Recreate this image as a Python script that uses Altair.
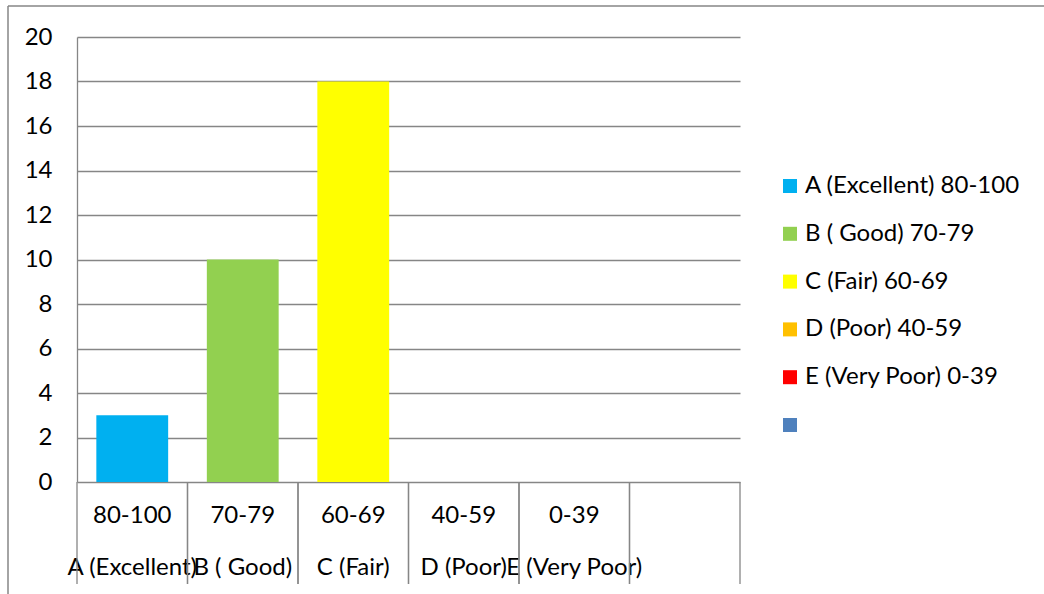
import altair as alt
import pandas as pd

# ---- data ----
ranges = ["80-100", "70-79", "60-69", "40-59", "0-39", " "]
grades = ["A (Excellent)", "B ( Good)", "C (Fair)", "D (Poor)", "E (Very Poor)", " "]
counts = [3, 10, 18, 0, 0, 0]
series = ["A (Excellent) 80-100", "B ( Good) 70-79", "C (Fair) 60-69",
          "D (Poor) 40-59", "E (Very Poor) 0-39", " "]
colors = ["#00B0F0", "#92D050", "#FFFF00", "#FFC000", "#FF0000", "#4F81BD"]
y_ticks = [0, 2, 4, 6, 8, 10, 12, 14, 16, 18, 20]

df = pd.DataFrame({"range": ranges, "grade": grades, "count": counts, "series": series})

FONT = "Lato"
FS = 24
GRID = "#868686"
W, H = 663, 445

xscale = alt.Scale(domain=ranges, paddingInner=0, paddingOuter=0)

def xenc(**kw):
    return alt.X("range:N", sort=ranges, scale=xscale, **kw)

base = alt.Chart(df)

bars = base.transform_filter("datum.count > 0").mark_bar(width={"band": 0.65}).encode(
    x=xenc(axis=alt.Axis(labels=False, ticks=False, title=None, domainColor=GRID,
                         domainWidth=1.3, grid=False)),
    y=alt.Y("count:Q", scale=alt.Scale(domain=[0, 20], nice=False),
            axis=alt.Axis(values=y_ticks, grid=True, gridColor=GRID, gridWidth=1.3,
                          domain=True, domainColor=GRID, domainWidth=1.3, ticks=False,
                          labelPadding=25, labelFont=FONT, labelFontSize=FS,
                          labelColor="black", title=None)),
    color=alt.Color("series:N", scale=alt.Scale(domain=series, range=colors),
                    legend=alt.Legend(title=None, orient="none", legendX=701, legendY=137,
                                      symbolType="square", symbolSize=196,
                                      symbolStrokeWidth=0, symbolOpacity=1,
                                      labelFont=FONT, labelFontSize=FS, labelColor="black",
                                      labelOffset=3, rowPadding=23.8, labelLimit=400)),
)

level1 = base.mark_text(font=FONT, fontSize=FS, baseline="middle", align="center",
                        color="black").encode(
    x=xenc(axis=None), y=alt.value(479), text="range:N")

level2 = base.mark_text(font=FONT, fontSize=FS, baseline="middle", align="center",
                        color="black").encode(
    x=xenc(axis=None), y=alt.value(531), text="grade:N")

sep_left = base.mark_rule(color=GRID, strokeWidth=1.3).encode(
    x=xenc(axis=None, bandPosition=0), y=alt.value(H), y2=alt.value(547))
sep_right = base.mark_rule(color=GRID, strokeWidth=1.3).encode(
    x=xenc(axis=None, bandPosition=1), y=alt.value(H), y2=alt.value(547))

one = alt.Chart(pd.DataFrame({"a": [0]}))
border_left = one.mark_rule(color=GRID, strokeWidth=1.5).encode(
    x=alt.value(-69), y=alt.value(-31), y2=alt.value(H + 112))
border_top = one.mark_rule(color=GRID, strokeWidth=1.5).encode(
    x=alt.value(-69), x2=alt.value(W + 304), y=alt.value(-31))

chart = alt.layer(bars, level1, level2, sep_left, sep_right, border_left, border_top).properties(
    width=W, height=H,
    padding={"left": 77, "top": 37, "right": 304, "bottom": 112},
    autosize=alt.AutoSizeParams(type="none"),
    background="white",
).configure_view(stroke=None)

chart.save("out.html", embed_options={"renderer": "svg", "actions": False})
